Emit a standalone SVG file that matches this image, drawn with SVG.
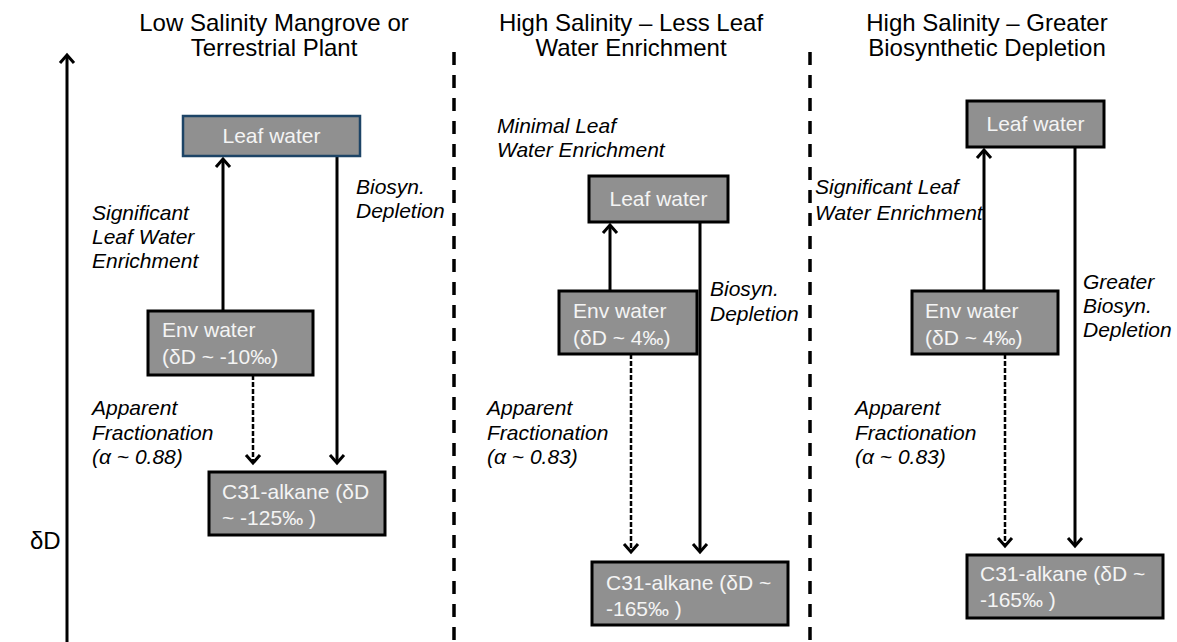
<svg xmlns="http://www.w3.org/2000/svg" width="1177" height="642" viewBox="0 0 1177 642">
<style>
  .title{font-family:"Liberation Sans",Arial,sans-serif;font-size:24px;fill:#000;text-anchor:middle}
  .lbl{font-family:"Liberation Sans",Arial,sans-serif;font-size:21px;font-style:italic;fill:#000}
  .box{fill:#909090;stroke:#000;stroke-width:3}
  .boxblue{fill:#909090;stroke:#1d4466;stroke-width:2.5}
  .btxt{font-family:"Liberation Sans",Arial,sans-serif;font-size:21px;fill:#f4f4f4}
  .mid{text-anchor:middle}
  .arr{stroke:#000;stroke-width:3;fill:none}
  .darr{stroke:#000;stroke-width:2.5;fill:none;stroke-dasharray:5 2}
  .sep{stroke:#000;stroke-width:3.5;stroke-dasharray:13 10}
</style>
<defs>
  <marker id="ah" viewBox="-12 -10 16 20" markerWidth="16" markerHeight="20" refX="0" refY="0" orient="auto" markerUnits="userSpaceOnUse">
    <path d="M-8,-7 L0,0 L-8,7" fill="none" stroke="#000" stroke-width="3" stroke-linejoin="miter"/>
  </marker>
</defs>

<g id="titles">
  <text class="title" x="274" y="31">Low Salinity Mangrove or</text>
  <text class="title" x="274" y="56">Terrestrial Plant</text>
  <text class="title" x="631" y="31">High Salinity – Less Leaf</text>
  <text class="title" x="631" y="56">Water Enrichment</text>
  <text class="title" x="987" y="31">High Salinity – Greater</text>
  <text class="title" x="987" y="56">Biosynthetic Depletion</text>
</g>

<g id="axis">
  <line x1="67" y1="642" x2="67" y2="55" class="arr" stroke-width="3.5" marker-end="url(#ah)"/>
  <text x="30" y="549" font-family="Liberation Sans, Arial, sans-serif" font-size="24" fill="#000">δD</text>
</g>

<g id="separators">
  <line class="sep" x1="454" y1="52" x2="454" y2="642"/>
  <line class="sep" x1="810" y1="52" x2="810" y2="642"/>
</g>

<g id="connectors">
  <line class="arr" x1="223" y1="311" x2="223" y2="159" marker-end="url(#ah)"/>
  <line class="arr" x1="337" y1="157" x2="337" y2="463" marker-end="url(#ah)"/>
  <line class="darr" x1="253" y1="375" x2="253" y2="463" marker-end="url(#ah)"/>

  <line class="arr" x1="610" y1="291" x2="610" y2="225" marker-end="url(#ah)"/>
  <line class="arr" x1="700" y1="223" x2="700" y2="552" marker-end="url(#ah)"/>
  <line class="darr" x1="631" y1="354" x2="631" y2="552" marker-end="url(#ah)"/>

  <line class="arr" x1="984" y1="291" x2="984" y2="150" marker-end="url(#ah)"/>
  <line class="arr" x1="1075" y1="148" x2="1075" y2="546" marker-end="url(#ah)"/>
  <line class="darr" x1="1005" y1="354" x2="1005" y2="546" marker-end="url(#ah)"/>
</g>

<g id="p1-leaf">
  <rect class="boxblue" x="183" y="116" width="177" height="40"/>
  <text class="btxt mid" x="271.5" y="143">Leaf water</text>
</g>
<g id="p1-env">
  <rect class="box" x="148" y="311" width="165" height="64"/>
  <text class="btxt" x="162" y="337">Env water</text>
  <text class="btxt" x="162" y="364">(δD ~ -10‰)</text>
</g>
<g id="p1-alkane">
  <rect class="box" x="209" y="472" width="176" height="63"/>
  <text class="btxt" x="222" y="499">C31-alkane (δD</text>
  <text class="btxt" x="222" y="525">~ -125‰ )</text>
</g>

<g id="p2-leaf">
  <rect class="box" x="589" y="176" width="139" height="46"/>
  <text class="btxt mid" x="658.5" y="206">Leaf water</text>
</g>
<g id="p2-env">
  <rect class="box" x="559" y="291" width="138" height="63"/>
  <text class="btxt" x="573" y="318">Env water</text>
  <text class="btxt" x="573" y="345">(δD ~ 4‰)</text>
</g>
<g id="p2-alkane">
  <rect class="box" x="592" y="562" width="196" height="63"/>
  <text class="btxt" x="606" y="590">C31-alkane (δD ~</text>
  <text class="btxt" x="606" y="616">-165‰ )</text>
</g>

<g id="p3-leaf">
  <rect class="box" x="967" y="101" width="137" height="46"/>
  <text class="btxt mid" x="1035.5" y="131">Leaf water</text>
</g>
<g id="p3-env">
  <rect class="box" x="912" y="291" width="146" height="63"/>
  <text class="btxt" x="925" y="318">Env water</text>
  <text class="btxt" x="925" y="345">(δD ~ 4‰)</text>
</g>
<g id="p3-alkane">
  <rect class="box" x="967" y="555" width="196" height="63"/>
  <text class="btxt" x="980" y="581">C31-alkane (δD ~</text>
  <text class="btxt" x="980" y="607">-165‰ )</text>
</g>

<g id="labels">
  <text class="lbl" x="92" y="220">Significant</text>
  <text class="lbl" x="92" y="244">Leaf Water</text>
  <text class="lbl" x="92" y="268">Enrichment</text>
  <text class="lbl" x="356" y="194">Biosyn.</text>
  <text class="lbl" x="356" y="218">Depletion</text>
  <text class="lbl" x="92" y="415">Apparent</text>
  <text class="lbl" x="92" y="440">Fractionation</text>
  <text class="lbl" x="92" y="464">(α ~ 0.88)</text>

  <text class="lbl" x="497" y="133">Minimal Leaf</text>
  <text class="lbl" x="497" y="157">Water Enrichment</text>
  <text class="lbl" x="710" y="296">Biosyn.</text>
  <text class="lbl" x="710" y="321">Depletion</text>
  <text class="lbl" x="487" y="415">Apparent</text>
  <text class="lbl" x="487" y="440">Fractionation</text>
  <text class="lbl" x="487" y="464">(α ~ 0.83)</text>

  <text class="lbl" x="815" y="194">Significant Leaf</text>
  <text class="lbl" x="815" y="220">Water Enrichment</text>
  <text class="lbl" x="1083" y="289">Greater</text>
  <text class="lbl" x="1083" y="313">Biosyn.</text>
  <text class="lbl" x="1083" y="337">Depletion</text>
  <text class="lbl" x="855" y="415">Apparent</text>
  <text class="lbl" x="855" y="440">Fractionation</text>
  <text class="lbl" x="855" y="464">(α ~ 0.83)</text>
</g>
</svg>
